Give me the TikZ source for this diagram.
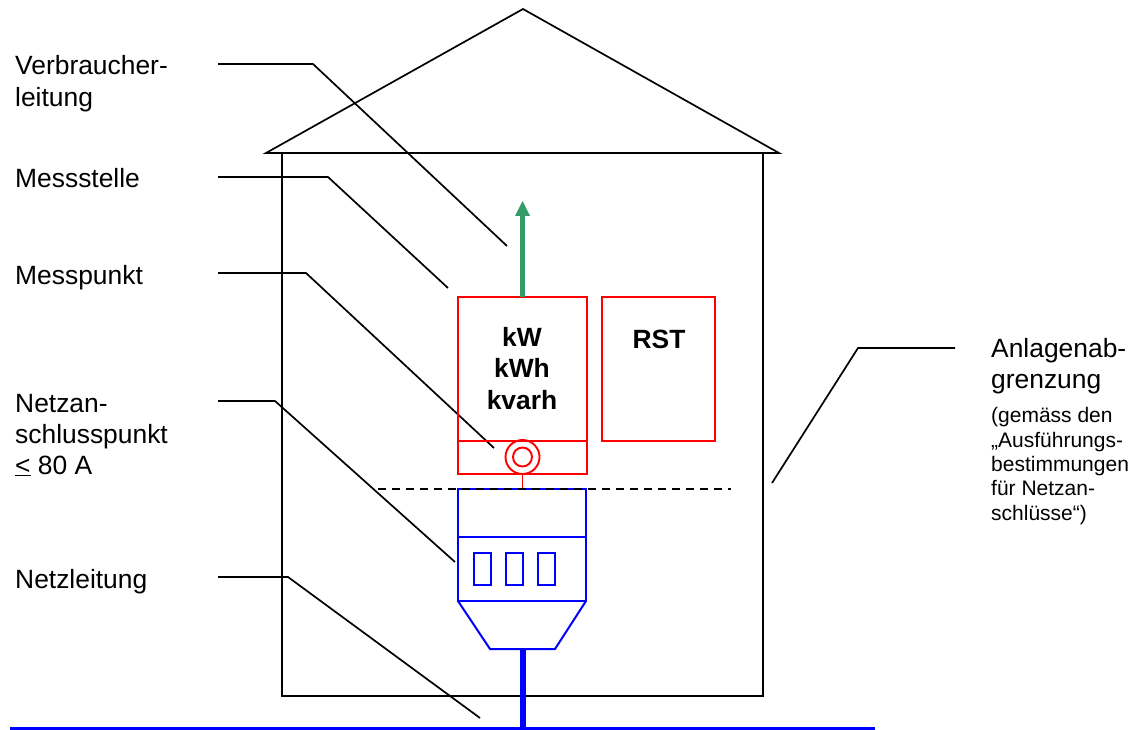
\documentclass[tikz,border=0pt]{standalone}
\usepackage{fontspec}
\setmainfont{Liberation Sans}
\definecolor{arrowgreen}{RGB}{52,155,105}
\tikzset{
  label/.style={anchor=base west, inner sep=0pt, align=left, font=\fontsize{26.4}{31}\selectfont},
  smalllabel/.style={anchor=base west, inner sep=0pt, align=left, font=\fontsize{21}{24.3}\selectfont},
  meterlabel/.style={anchor=base, inner sep=0pt, align=center, font=\fontsize{26.4}{31.5}\selectfont\bfseries},
  leader/.style={draw=black, line width=1.7pt},
  redbox/.style={draw=red, line width=1.9pt},
  bluebox/.style={draw=blue, line width=2pt}
}
\begin{document}
\begin{tikzpicture}[x=1pt, y=-1pt]
    \useasboundingbox (0, 0) rectangle (1138, 730);
    % Define house
    \draw[leader] (266, 153) -- (523, 9) -- (779, 153) -- cycle;
    \draw[leader] (282, 153) -- (282, 696) -- (763, 696) -- (763, 153);
    % Define labels
    \node[label] (verbraucher) at (15, 107) {Verbraucher-\\[1pt]leitung};
    \node[label] (messstelle) at (15, 188) {Messstelle};
    \node[label] (messpunkt) at (15, 284) {Messpunkt};
    \node[label] (netzanschluss) at (15, 474) {Netzan-\\schlusspunkt\\\underline{<} 80 A};
    \node[label] (netzleitung) at (15, 588) {Netzleitung};
    \node[label] (anlagen) at (991, 388) {Anlagenab-\\grenzung};
    \node[smalllabel] (ausfuehrung) at (991, 520) {(gemäss den\\„Ausführungs-\\bestimmungen\\für Netzan-\\schlüsse“)};
    % Define leader ends
    \coordinate (v1) at (218, 64);
    \coordinate (v2) at (313, 64);
    \coordinate (v3) at (507, 246);
    \coordinate (ms1) at (218, 177);
    \coordinate (ms2) at (328, 177);
    \coordinate (ms3) at (448, 288);
    \coordinate (mp1) at (218, 273);
    \coordinate (mp2) at (306, 273);
    \coordinate (mp3) at (494, 448);
    \coordinate (na1) at (218, 401);
    \coordinate (na2) at (275, 401);
    \coordinate (na3) at (455, 562);
    \coordinate (nl1) at (218, 577);
    \coordinate (nl2) at (288, 577);
    \coordinate (nl3) at (480, 718);
    \coordinate (ag1) at (955, 348);
    \coordinate (ag2) at (858, 348);
    \coordinate (ag3) at (772, 483);
    % Draw leaders
    \draw[leader] (v1) -- (v2) -- (v3);
    \draw[leader] (ms1) -- (ms2) -- (ms3);
    \draw[leader] (mp1) -- (mp2) -- (mp3);
    \draw[leader] (na1) -- (na2) -- (na3);
    \draw[leader] (nl1) -- (nl2) -- (nl3);
    \draw[leader] (ag1) -- (ag2) -- (ag3);
    % Define meter boxes
    \node[meterlabel] (units) at (522, 409) {kW\\kWh\\kvarh};
    \node[meterlabel] (rst) at (659, 348) {RST};
    \draw[redbox] (458, 297) rectangle (587, 441);
    \draw[redbox] (458, 441) rectangle (587, 474);
    \draw[redbox] (602, 297) rectangle (715, 441);
    \node[circle, redbox, minimum size=34pt, inner sep=0pt] (ringouter) at (522.5, 457) {};
    \node[circle, redbox, minimum size=19pt, inner sep=0pt] (ringinner) at (522.5, 457) {};
    \coordinate (meterbottom) at (522.5, 474);
    \coordinate (metertop) at (522.5, 297);
    \coordinate (arrowend) at (522.5, 201);
    \coordinate (dash1) at (378, 489);
    \coordinate (dash2) at (731, 489);
    \coordinate (feedtop) at (522.5, 489);
    % Draw connection box
    \draw[red, line width=1.9pt] (meterbottom) -- (feedtop);
    \draw[bluebox] (458, 489) rectangle (586, 601);
    \draw[bluebox] (458, 537) -- (586, 537);
    \foreach \x in {474, 506, 538} {
        \draw[bluebox] (\x, 553) rectangle (\x+17, 585);
    }
    \draw[bluebox] (458, 601) -- (490, 649) -- (555, 649) -- (586, 601);
    \draw[black, line width=1.6pt, dash pattern=on 8pt off 6pt] (dash1) -- (dash2);
    % Draw lines
    \coordinate (feedbottom) at (522.5, 649);
    \coordinate (gridjoin) at (522.5, 729);
    \coordinate (grid1) at (10, 729);
    \coordinate (grid2) at (875, 729);
    \draw[blue, line width=6pt] (feedbottom) -- (gridjoin);
    \draw[blue, line width=5pt] (grid1) -- (grid2);
    \draw[arrowgreen, line width=4.5pt] (metertop) -- (522.5, 215);
    \fill[arrowgreen] (arrowend) -- (530, 216) -- (515, 216) -- cycle;
\end{tikzpicture}
\end{document}
